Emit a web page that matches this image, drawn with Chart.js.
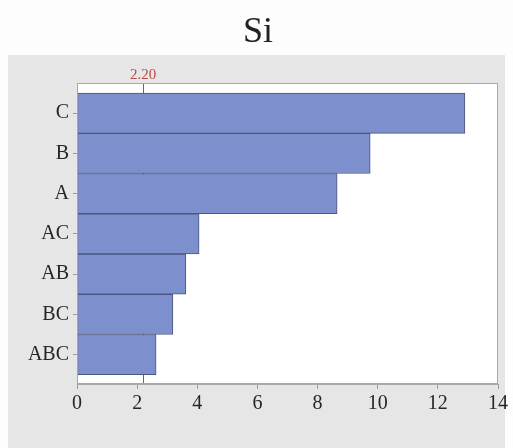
<!DOCTYPE html>
<html>
<head>
<meta charset="utf-8">
<script src="https://cdn.jsdelivr.net/npm/chart.js@4/dist/chart.umd.min.js"></script>
<style>
  html, body { margin: 0; padding: 0; background: #fdfdfd; }
  #wrap { width: 513px; height: 448px; }
</style>
</head>
<body>
<div id="wrap"><canvas id="c" width="513" height="448"></canvas></div>
<script>
// Pareto chart of standardized effects for Si
const terms = ['C', 'B', 'A', 'AC', 'AB', 'BC', 'ABC'];
const effects = [12.9, 9.75, 8.65, 4.06, 3.62, 3.19, 2.63];
const xTicks = [0, 2, 4, 6, 8, 10, 12, 14];
const refValue = 2.20;
const refLabel = '2.20';
const titleText = 'Si';

const serif = "'Liberation Serif', 'DejaVu Serif', serif";
Chart.defaults.font.family = serif;

// bars sit on a numeric index axis so neighbouring bars touch
const points = terms.map((t, i) => ({ x: effects[i], y: i }));

const panelPlugin = {
  id: 'panel',
  beforeDraw(chart) {
    const { ctx, chartArea: a } = chart;
    ctx.save();
    ctx.fillStyle = '#e6e6e6';
    ctx.fillRect(8, 55, 497, 393);
    ctx.fillStyle = '#ffffff';
    ctx.fillRect(a.left, a.top, a.right - a.left, a.bottom - a.top);
    ctx.restore();
  },
  beforeDatasetsDraw(chart) {
    const { ctx, chartArea: a, scales } = chart;
    const x = Math.round(scales.x.getPixelForValue(refValue)) + 0.5;
    ctx.save();
    ctx.strokeStyle = '#c04040';
    ctx.lineWidth = 1;
    ctx.beginPath();
    ctx.moveTo(x, a.top);
    ctx.lineTo(x, a.bottom);
    ctx.stroke();
    ctx.restore();
  },
  afterDraw(chart) {
    const { ctx, chartArea: a, scales } = chart;
    ctx.save();
    ctx.strokeStyle = '#a8a8a8';
    ctx.lineWidth = 1;
    ctx.strokeRect(a.left + 0.5, a.top + 0.5, a.right - a.left - 1, a.bottom - a.top - 1);
    const x = scales.x.getPixelForValue(refValue);
    ctx.fillStyle = '#b84a4a';
    ctx.font = '15px ' + serif;
    ctx.textAlign = 'center';
    ctx.textBaseline = 'alphabetic';
    ctx.fillText(refLabel, x, a.top - 4);
    ctx.fillStyle = '#222222';
    ctx.font = '36px ' + serif;
    ctx.textBaseline = 'middle';
    ctx.fillText(titleText, 258, 33);
    ctx.restore();
  }
};

new Chart(document.getElementById('c'), {
  type: 'bar',
  data: {
    datasets: [{
      data: points,
      backgroundColor: '#7d8fcc',
      borderColor: '#4a5680',
      borderWidth: 1,
      borderSkipped: false,
      barPercentage: 1,
      categoryPercentage: 1
    }]
  },
  options: {
    indexAxis: 'y',
    responsive: false,
    animation: false,
    devicePixelRatio: 1,
    layout: { padding: { top: 83, left: 8, right: 15, bottom: 0 } },
    plugins: {
      legend: { display: false },
      title: { display: false },
      tooltip: { enabled: false }
    },
    scales: {
      x: {
        type: 'linear',
        min: 0,
        max: 14,
        afterBuildTicks(scale) { scale.ticks = xTicks.map(v => ({ value: v })); },
        afterFit(scale) { scale.height = 64; },
        grid: { drawOnChartArea: false, drawTicks: true, tickLength: 5, color: '#999999' },
        border: { display: true, color: '#a8a8a8' },
        ticks: { color: '#262626', font: { size: 20, family: serif }, padding: 3 }
      },
      y: {
        type: 'linear',
        reverse: true,
        offset: false,
        min: -0.75,
        max: terms.length - 0.27,
        afterBuildTicks(scale) { scale.ticks = terms.map((t, i) => ({ value: i })); },
        afterFit(scale) { scale.width = 69; },
        grid: { offset: false, drawOnChartArea: false, drawTicks: true, tickLength: 4, color: '#999999' },
        border: { display: true, color: '#a8a8a8' },
        ticks: {
          color: '#262626',
          font: { size: 20, family: serif },
          padding: 4,
          callback: (v) => terms[Math.round(v)] ?? ''
        }
      }
    }
  },
  plugins: [panelPlugin]
});
</script>
</body>
</html>
